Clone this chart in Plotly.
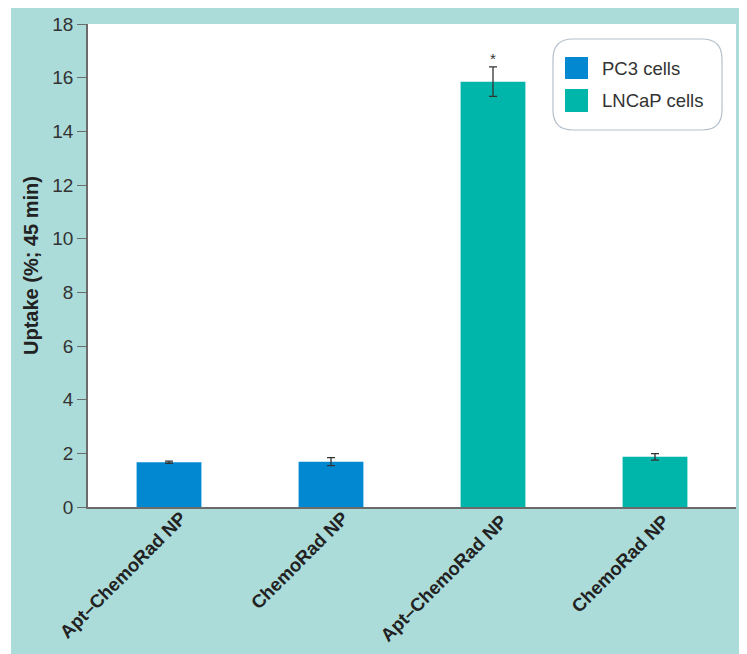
import plotly.graph_objects as go
import re

categories = ["Apt–ChemoRad NP", "ChemoRad NP", "Apt–ChemoRad NP ", "ChemoRad NP "]
pc3_x = categories[:2]
pc3_values = [1.67, 1.69]
pc3_errors = [0.04, 0.15]
lncap_x = categories[2:]
lncap_values = [15.85, 1.87]
lncap_errors = [0.55, 0.12]
series_names = ["PC3 cells", "LNCaP cells"]
y_ticks = [0, 2, 4, 6, 8, 10, 12, 14, 16, 18]

PC3_COLOR = "#0288d1"
LNCAP_COLOR = "#00b5aa"
TEAL_BG = "#abdcd9"
FONT = "Liberation Sans, Arial, Helvetica, sans-serif"

OFF = 8  # page body margin
W, H = 747 - OFF, 654 - OFF
# screen-coordinate plot area: x 88..736, y 24..507
L, R, T, B = 88 - OFF, 747 - 736, 24 - OFF, 654 - 507
PW, PH = W - L - R, H - T - B

def px_x(p):  # screen px -> paper
    return (p - OFF - L) / PW

def px_y(p):
    return (H - B - (p - OFF)) / PH

fig = go.Figure()
fig.add_trace(go.Bar(
    x=pc3_x, y=pc3_values, name=series_names[0], marker_color=PC3_COLOR,
    marker_line_width=0, width=0.4,
    error_y=dict(type="data", array=pc3_errors, color="#333333", thickness=1.3, width=4),
    showlegend=False,
))
fig.add_trace(go.Bar(
    x=lncap_x, y=lncap_values, name=series_names[1], marker_color=LNCAP_COLOR,
    marker_line_width=0, width=0.4,
    error_y=dict(type="data", array=lncap_errors, color="#333333", thickness=1.3, width=4),
    showlegend=False,
))

# significance asterisk
fig.add_annotation(x=lncap_x[0], y=lncap_values[0] + lncap_errors[0], text="*",
                   showarrow=False, yshift=8, font=dict(size=15, color="#333333", family=FONT))

shapes = []
# white outer border strip on the left
shapes.append(dict(type="rect", xref="paper", yref="paper", x0=px_x(0), x1=px_x(11),
                   y0=px_y(H + 20), y1=px_y(0), fillcolor="white", line_width=0, layer="above"))

# custom rounded legend box
bx0, bx1, by0, by1 = 553, 722, 39, 130
rad = 20
path = (f"M {bx0+rad},{by0} L {bx1-rad},{by0} Q {bx1},{by0} {bx1},{by0+rad} "
        f"L {bx1},{by1-rad} Q {bx1},{by1} {bx1-rad},{by1} L {bx0+rad},{by1} "
        f"Q {bx0},{by1} {bx0},{by1-rad} L {bx0},{by0+rad} Q {bx0},{by0} {bx0+rad},{by0} Z")

def conv(m):
    a, b = float(m.group(1)), float(m.group(2))
    return f"{px_x(a):.5f},{px_y(b):.5f}"

path_paper = re.sub(r"(-?[\d.]+),(-?[\d.]+)", conv, path)
shapes.append(dict(type="path", xref="paper", yref="paper", path=path_paper,
                   fillcolor="white", line=dict(color="#b4c0cc", width=1.2), layer="above"))

legend_rows = [(series_names[0], PC3_COLOR, 57, 79), (series_names[1], LNCAP_COLOR, 89, 112)]
for name, color, ya, yb in legend_rows:
    shapes.append(dict(type="rect", xref="paper", yref="paper", x0=px_x(565), x1=px_x(588),
                       y0=px_y(yb), y1=px_y(ya), fillcolor=color, line_width=0, layer="above"))
    fig.add_annotation(xref="paper", yref="paper", x=px_x(600), y=px_y((ya + yb) / 2),
                       xanchor="left", yanchor="middle", text=name, showarrow=False,
                       font=dict(size=18.5, color="#333333", family=FONT))

fig.update_layout(
    width=W, height=H,
    margin=dict(l=L, r=R, t=T, b=B, autoexpand=False),
    paper_bgcolor=TEAL_BG,
    plot_bgcolor="white",
    barmode="overlay",
    shapes=shapes,
    font=dict(family=FONT, color="#333333"),
    xaxis=dict(
        categoryorder="array", categoryarray=categories,
        tickangle=-45, showline=True, linecolor="#6b6b6b", linewidth=2,
        ticks="", showgrid=False, zeroline=False,
        tickfont=dict(size=18.5, color="#222222", family=FONT),
        tickprefix="<b>", ticksuffix="</b>",
        ticklabelshift=12, ticklabelstandoff=-9,
        range=[-0.5, 3.5],
    ),
    yaxis=dict(
        range=[0, 18], tickvals=y_ticks, showline=True, linecolor="#6b6b6b", linewidth=1.5,
        ticks="outside", ticklen=9, tickwidth=1.2, tickcolor="#6b6b6b",
        showgrid=False, zeroline=False,
        tickfont=dict(size=19, color="#333333", family=FONT),
        title=dict(text="<b>Uptake (%; 45 min)</b>", font=dict(size=20, color="#222222", family=FONT),
                   standoff=8),
    ),
)

fig.write_html("out.html")
